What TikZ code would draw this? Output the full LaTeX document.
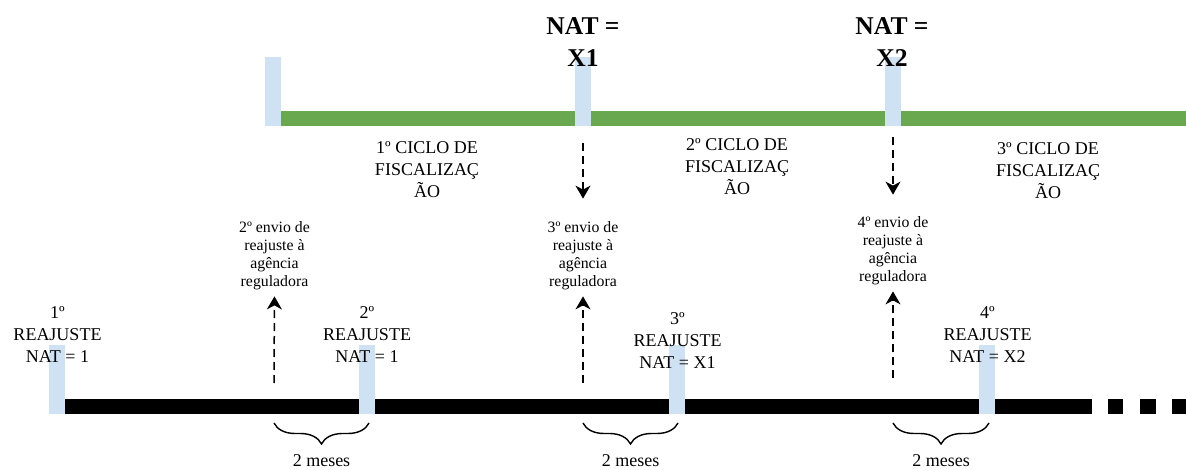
\documentclass[tikz,border=0pt]{standalone}
\usepackage{fontspec}
\setmainfont{Liberation Serif}
\usetikzlibrary{arrows.meta,decorations.pathreplacing}
\definecolor{azulclaro}{HTML}{CFE2F3}
\definecolor{verdeciclo}{HTML}{6AA84F}

\begin{document}
\begin{tikzpicture}[x=1pt, y=-1pt,
	marca/.style={fill=azulclaro, inner sep=0pt, minimum width=16pt, minimum height=69pt},
	rotulo/.style={align=center, inner sep=0pt, font=\fontsize{18}{22}\selectfont},
	envio/.style={align=center, inner sep=0pt, font=\fontsize{15.8}{18}\selectfont},
	nat/.style={align=center, inner sep=0pt, font=\fontsize{25.6}{32}\selectfont\bfseries},
	seta/.style={line width=1.5pt, dash pattern=on 8pt off 5pt, -{Stealth[length=13pt, width=15pt, inset=4pt]}},
	chave/.style={line width=1.4pt, decorate, decoration={brace, mirror, amplitude=21pt}}]
			%%%%% START %%%%%
			\useasboundingbox (0, 0) rectangle (1186, 470);
			
			% linha dos ciclos
			\fill[verdeciclo] (281, 111) rectangle (1186, 126);
			\node[marca] (mC0) at (273, 91.5) {};
			\node[marca] (mX1) at (583, 91.5) {};
			\node[marca] (mX2) at (893, 91.5) {};
			
			\node[nat] (nat1) at (583, 42) {NAT =\\X1};
			\node[nat] (nat2) at (892, 42) {NAT =\\X2};
			
			\node[rotulo] (ciclo1) at (427, 170) {1º CICLO DE\\FISCALIZAÇ\\ÃO};
			\node[rotulo] (ciclo2) at (737, 167) {2º CICLO DE\\FISCALIZAÇ\\ÃO};
			\node[rotulo] (ciclo3) at (1048, 171) {3º CICLO DE\\FISCALIZAÇ\\ÃO};
			
			% linha dos reajustes
			\fill[black] (65, 399) rectangle (1092, 414);
			\fill[black] (1108, 399) rectangle (1123, 414);
			\fill[black] (1140, 399) rectangle (1156, 414);
			\fill[black] (1172, 399) rectangle (1186, 414);
			
			\node[marca] (mR1) at (57, 379.5) {};
			\node[marca] (mR2) at (367, 379.5) {};
			\node[marca] (mR3) at (677, 379.5) {};
			\node[marca] (mR4) at (987, 379.5) {};
			
			\node[rotulo] (reaj1) at (57.5, 335) {1º\\REAJUSTE\\NAT = 1};
			\node[rotulo] (reaj2) at (367, 335) {2º\\REAJUSTE\\NAT = 1};
			\node[rotulo] (reaj3) at (677.5, 340.5) {3º\\REAJUSTE\\NAT = X1};
			\node[rotulo] (reaj4) at (987.5, 335) {4º\\REAJUSTE\\NAT = X2};
			
			\node[envio] (envio2) at (274.5, 256) {2º envio de\\reajuste à\\agência\\reguladora};
			\node[envio] (envio3) at (583, 256) {3º envio de\\reajuste à\\agência\\reguladora};
			\node[envio] (envio4) at (893, 251) {4º envio de\\reajuste à\\agência\\reguladora};
			
			% setas
			\draw[seta, shorten <=17pt, shorten >=23pt] (mX1.south) -- (envio3.north);
			\draw[seta, shorten <=11pt, shorten >=22pt] (mX2.south) -- (envio4.north);
			
			\coordinate (p2) at (274, 383);
			\coordinate (p3) at (583, 383);
			\coordinate (p4) at (893, 378);
			\draw[seta, shorten >=6pt] (p2) -- (envio2.south);
			\draw[seta, shorten >=6pt] (p3) -- (envio3.south);
			\draw[seta, shorten >=6pt] (p4) -- (envio4.south);
			
			% chaves de 2 meses
			\draw[chave] (274, 423) -- (369, 423);
			\draw[chave] (583, 423) -- (678, 423);
			\draw[chave] (893, 423) -- (989, 423);
			
			\node[rotulo] (mes2) at (321.5, 461) {2 meses};
			\node[rotulo] (mes3) at (630.5, 461) {2 meses};
			\node[rotulo] (mes4) at (941, 461) {2 meses};
			%%%%% END %%%%%
\end{tikzpicture}
\end{document}
